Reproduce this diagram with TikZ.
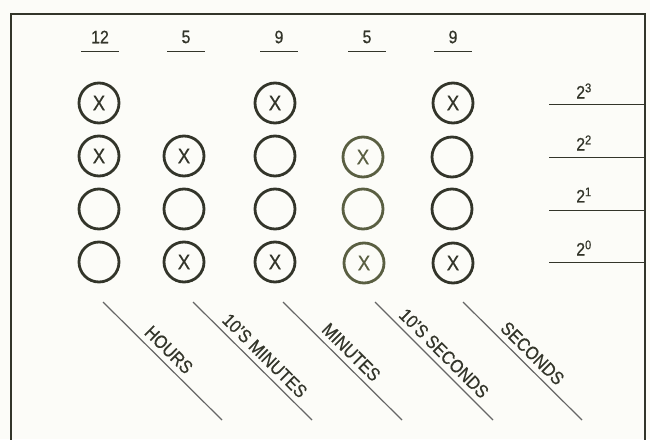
\documentclass[tikz,border=0pt]{standalone}
\usepackage{fontspec}
\setmainfont{Liberation Sans}[FakeStretch=0.88, FakeBold=0.6]
\usetikzlibrary{calc}
\definecolor{ink}{HTML}{33352A}
\definecolor{olive}{HTML}{5A5F42}
\definecolor{paper}{HTML}{FCFCF8}
\begin{document}
\begin{tikzpicture}[x=1pt,y=-1pt,
    bit/.style={circle, draw=ink, line width=2.8pt, minimum size=40pt, inner sep=0pt, text=ink, font=\fontsize{21}{21}\selectfont},
    dim/.style={draw=olive, text=olive},
    digit/.style={text=ink, font=\fontsize{18}{18}\selectfont},
    guide/.style={draw=gray!80!black, line width=1.2pt},
    tag/.style={text=ink, font=\fontsize{18.5}{18.5}\selectfont}]
    % Paper and frame
    \fill[paper] (0,0) rectangle (650,439);
    \useasboundingbox (0,0) rectangle (650,439);
    \coordinate (tl) at (11,14);
    \coordinate (tr) at (645,14);
    \coordinate (bl) at (11,440);
    \coordinate (br) at (645,440);
    \draw[ink, line width=2.4pt] (bl) -- (tl) -- (tr) -- (br);

    % Decimal digits
    \node[digit] (d1) at (100,37) {12};
    \node[digit] (d2) at (186,37) {5};
    \node[digit] (d3) at (279,37) {9};
    \node[digit] (d4) at (367,37) {5};
    \node[digit] (d5) at (453,37) {9};
    \foreach \d in {d1,d2,d3,d4,d5}
        \draw[ink, line width=1pt] ($(\d)+(-19,14)$) -- ++(38,0);

    % Hours
    \node[bit] (h3) at (99,103) {X};
    \node[bit] (h2) at (99,156) {X};
    \node[bit] (h1) at (99,209) {};
    \node[bit] (h0) at (99,262) {};

    % 10's minutes
    \node[bit] (tm2) at (184,156) {X};
    \node[bit] (tm1) at (184,209) {};
    \node[bit] (tm0) at (184,262) {X};

    % Minutes
    \node[bit] (m3) at (275,103) {X};
    \node[bit] (m2) at (275,156) {};
    \node[bit] (m1) at (275,209) {};
    \node[bit] (m0) at (275,262) {X};

    % 10's seconds
    \node[bit, dim] (ts2) at (363,157) {X};
    \node[bit, dim] (ts1) at (363,209) {};
    \node[bit, dim] (ts0) at (364,263) {X};

    % Seconds
    \node[bit] (s3) at (453,103) {X};
    \node[bit] (s2) at (452,157) {};
    \node[bit] (s1) at (452,209) {};
    \node[bit] (s0) at (453,263) {X};

    % Weights
    \node[digit] (w3) at (584,91) {2\textsuperscript{3}};
    \node[digit] (w2) at (584,143) {2\textsuperscript{2}};
    \node[digit] (w1) at (584,195) {2\textsuperscript{1}};
    \node[digit] (w0) at (584,248) {2\textsuperscript{0}};
    \coordinate (w3l) at (549,104);
    \coordinate (w2l) at (549,157);
    \coordinate (w1l) at (549,210);
    \coordinate (w0l) at (549,262);
    \foreach \w in {w3l,w2l,w1l,w0l}
        \draw[ink, line width=1pt] (\w) -- (\w -| tr);

    % Column names
    \coordinate (g1a) at (103,302); \coordinate (g1b) at (222,420);
    \coordinate (g2a) at (193,302); \coordinate (g2b) at (312,420);
    \coordinate (g3a) at (283,302); \coordinate (g3b) at (402,420);
    \coordinate (g4a) at (375,302); \coordinate (g4b) at (493,420);
    \coordinate (g5a) at (463,302); \coordinate (g5b) at (582,420);
    \draw[guide] (g1a) -- (g1b) node[tag, pos=0.48, above=2pt, sloped] (l1) {HOURS};
    \draw[guide] (g2a) -- (g2b) node[tag, pos=0.53, above=2pt, sloped] (l2) {10'S MINUTES};
    \draw[guide] (g3a) -- (g3b) node[tag, pos=0.5, above=2pt, sloped] (l3) {MINUTES};
    \draw[guide] (g4a) -- (g4b) node[tag, pos=0.51, above=2pt, sloped] (l4) {10'S SECONDS};
    \draw[guide] (g5a) -- (g5b) node[tag, pos=0.51, above=2pt, sloped] (l5) {SECONDS};
\end{tikzpicture}
\end{document}
